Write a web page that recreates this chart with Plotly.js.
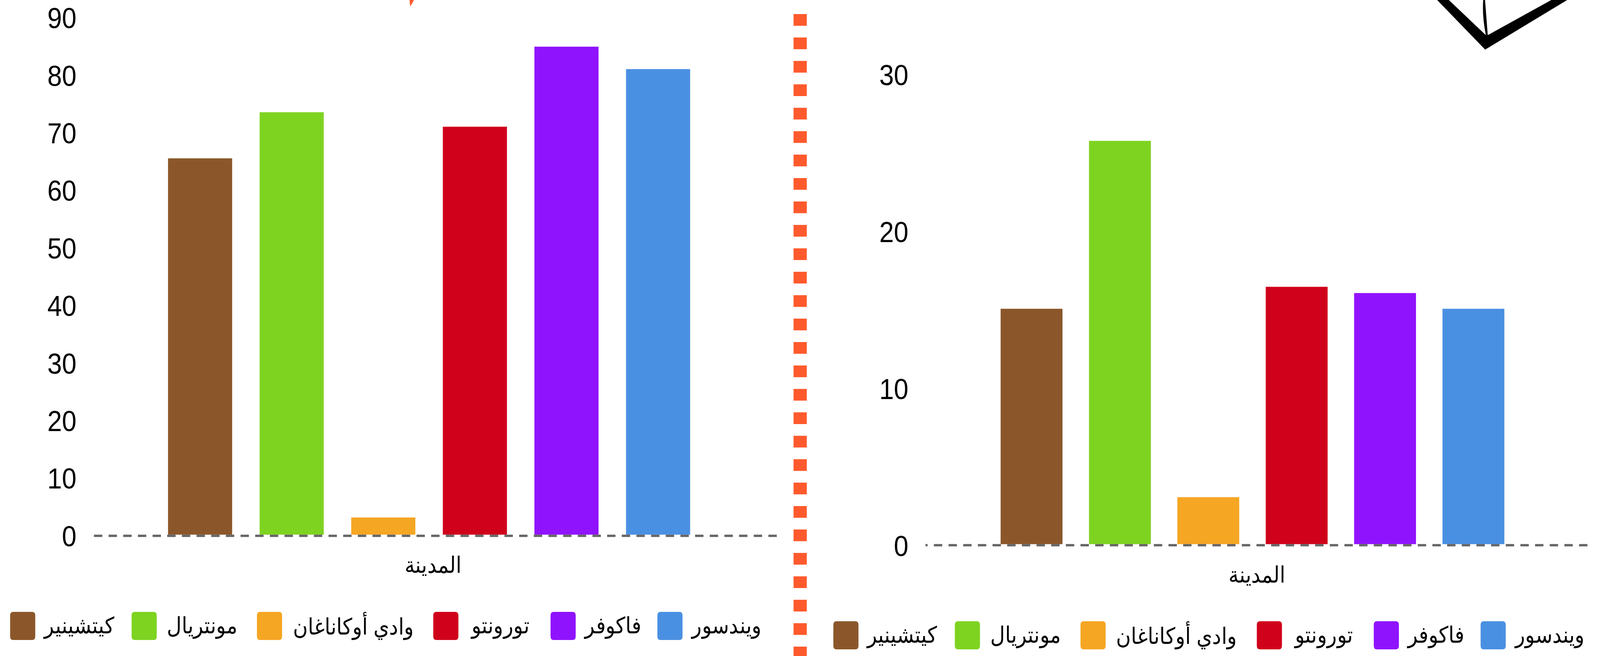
<!DOCTYPE html>
<html><head><meta charset="utf-8"><script src="https://cdn.plot.ly/plotly-3.0.1.min.js"></script>
<style>html,body{margin:0;padding:0;background:#fff;overflow:hidden}#c{width:4583px;height:1680px;transform-origin:0 0}</style></head><body><div id="c"></div>
<script>
const W=4583,H=1680;
const cities=["كيتشينير","مونتريال","وادي أوكاناغان","تورونتو","فاكوفر","ويندسور"];
const colors=["#8B572A","#7ED321","#F5A623","#D0021B","#9013FE","#4A90E2"];
const leftValues=[65.4,73.4,3.0,70.9,84.8,80.9];
const rightValues=[15.0,25.7,3.0,16.4,16.0,15.0];
const leftTicks=[0,10,20,30,40,50,60,70,80,90];
const rightTicks=[0,10,20,30];
const axisTitle="المدينة";
// the window may be narrower than the chart: fit the whole width into it
document.getElementById('c').style.transform='scaleX('+Math.min(1,window.innerWidth/W)+')';
const px=(x)=>x/W, py=(y)=>1-y/H;
const leftSw=[29,377,736,1241,1577,1883], leftTxt=[226,578,1012,1431,1754,2080];
const rightSw=[2387,2735,3095,3600,3935,4241], rightTxt=[2582,2937,3370,3790,4111,4438];
const ff='"Liberation Sans", Arial, sans-serif';
const data=[
 {type:'bar',x:cities,y:leftValues,marker:{color:colors},width:0.7,xaxis:'x',yaxis:'y',hoverinfo:'skip'},
 {type:'bar',x:cities,y:rightValues,marker:{color:colors},width:0.7,xaxis:'x2',yaxis:'y2',hoverinfo:'skip'}
];
function sw(x,y,c){const r=9,s=72,X=px,Y=py;
 return {type:'path',xref:'paper',yref:'paper',fillcolor:c,line:{width:0},
 path:`M${X(x+r)},${Y(y)}L${X(x+s-r)},${Y(y)}Q${X(x+s)},${Y(y)} ${X(x+s)},${Y(y+r)}L${X(x+s)},${Y(y+s-r)}Q${X(x+s)},${Y(y+s)} ${X(x+s-r)},${Y(y+s)}L${X(x+r)},${Y(y+s)}Q${X(x)},${Y(y+s)} ${X(x)},${Y(y+s-r)}L${X(x)},${Y(y+r)}Q${X(x)},${Y(y)} ${X(x+r)},${Y(y)}Z`};}
const dash={color:'#666666',width:6,dash:'24px,18px'};
const shapes=[
 {type:'line',xref:'paper',yref:'paper',x0:px(2292),x1:px(2292),y0:py(36),y1:py(1700),line:{color:'#FF5A2D',width:38,dash:'30px,30px'}},
 {type:'line',xref:'paper',yref:'paper',x0:px(269),x1:px(2225),y0:py(1372.3),y1:py(1372.3),line:dash},
 {type:'line',xref:'paper',yref:'paper',x0:px(2651),x1:px(2657),y0:py(1396.2),y1:py(1396.2),line:{color:'#666666',width:6}},
 {type:'line',xref:'paper',yref:'paper',x0:px(2675),x1:px(4547),y0:py(1396.2),y1:py(1396.2),line:dash},
 {type:'path',xref:'paper',yref:'paper',fillcolor:'#FF5A2D',line:{width:0},path:`M${px(1173)},${py(0)}L${px(1175)},${py(17)}L${px(1186)},${py(0)}Z`},
 {type:'path',xref:'paper',yref:'paper',fillcolor:'#000',line:{width:0},path:`M${px(4116.5)},${py(0)}L${px(4254)},${py(127)}L${px(4489)},${py(0)}L${px(4443.5)},${py(0)}L${px(4261.5)},${py(90)}L${px(4253.7)},${py(0)}L${px(4248.5)},${py(0)}Q${px(4245)},${py(40)} ${px(4256)},${py(90)}L${px(4150)},${py(0)}Z`},
 ...colors.map((c,i)=>sw(leftSw[i],1567,c)),...colors.map((c,i)=>sw(rightSw[i],1591,c))
];
const note=(t,x,y)=>({text:t,x:px(x),y:py(y),xref:'paper',yref:'paper',xanchor:'center',yanchor:'middle',showarrow:false,font:{family:ff,size:58,color:'#000'}});
const annotations=[
 ...cities.map((t,i)=>note(t,leftTxt[i],1603)),
 ...cities.map((t,i)=>note(t,rightTxt[i],1627)),
 note(axisTitle,1240,1446),note(axisTitle,3600,1471)
];
const yax=(dom,rng,ticks,shift)=>({domain:dom,range:rng,tickvals:ticks,ticktext:ticks.map(String),tickmode:'array',showgrid:false,zeroline:false,showline:false,ticks:'',ticklabelstandoff:48,ticklabelshift:shift,tickfont:{family:ff,size:75,color:'#000'},fixedrange:true});
const xax=(dom,rng,anchor)=>({domain:dom,range:rng,showticklabels:false,showgrid:false,zeroline:false,showline:false,ticks:'',anchor,type:'category',categoryorder:'array',categoryarray:cities});
const layout={width:W,height:H,margin:{l:0,r:0,t:0,b:0},paper_bgcolor:'#fff',plot_bgcolor:'rgba(0,0,0,0)',showlegend:false,shapes,annotations,
 xaxis:xax([px(268),px(2225)],[-1.163,6.296],'y'),
 xaxis2:xax([px(2651),px(4547)],[-1.2,6.29],'y2'),
 yaxis:Object.assign(yax([py(1369.5),1],[0,1369.5/14.74],leftTicks,3),{anchor:'x'}),
 yaxis2:Object.assign(yax([py(1393.8),1],[0,1393.8/40.2],rightTicks,4),{anchor:'x2'})
};
Plotly.newPlot('c',data,layout,{staticPlot:true,displayModeBar:false});
</script></body></html>
